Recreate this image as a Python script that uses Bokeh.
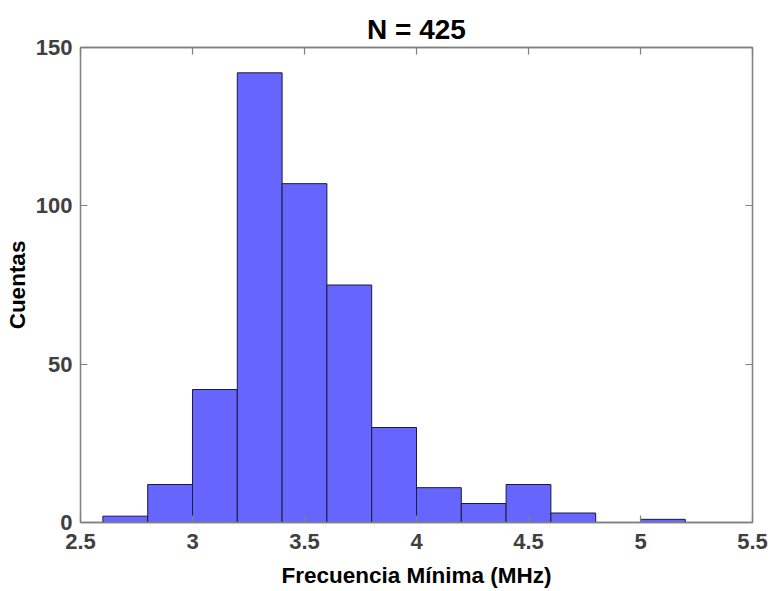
from bokeh.plotting import figure
from bokeh.models import Range1d, LinearAxis, FixedTicker, CustomJSTickFormatter
from bokeh.embed import file_html
from bokeh.resources import INLINE

# Data (histogram bins in MHz and counts)
bin_edges = [2.6, 2.8, 3.0, 3.2, 3.4, 3.6, 3.8, 4.0, 4.2, 4.4, 4.6, 4.8, 5.0, 5.2]
counts = [2, 12, 42, 142, 107, 75, 30, 11, 6, 12, 3, 0, 1]
x_ticks = [2.5, 3, 3.5, 4, 4.5, 5, 5.5]
y_ticks = [0, 50, 100, 150]
title_text = "N = 425"
x_label = "Frecuencia Mínima (MHz)"
y_label = "Cuentas"

FONT = "Liberation Sans"
AX_COL = "#808080"
TICK_COL = "#404040"

p = figure(width=771, height=591, output_backend="svg", toolbar_location=None,
           x_range=Range1d(2.5, 5.5), y_range=Range1d(0, 150),
           x_axis_location=None, y_axis_location=None,
           min_border_left=80, min_border_right=19,
           min_border_top=47, min_border_bottom=69,
           title=title_text)

p.title.text_font = FONT
p.title.text_font_size = "28px"
p.title.text_font_style = "bold"
p.title.text_color = "black"
p.title.align = "center"
p.title.standoff = 5

p.grid.visible = False
p.outline_line_color = AX_COL
p.outline_line_width = 1.3
p.background_fill_color = "white"
p.border_fill_color = "white"

p.quad(left=bin_edges[:-1], right=bin_edges[1:], bottom=0, top=counts,
       fill_color="#6666FF", line_color="#1a1a40", line_width=1)

fmt = CustomJSTickFormatter(code="return tick.toString();")

def style(ax, show_labels):
    ax.axis_line_color = AX_COL
    ax.axis_line_width = 1.3
    ax.major_tick_line_color = AX_COL
    ax.major_tick_line_width = 1.2
    ax.major_tick_in = 7
    ax.major_tick_out = 0
    ax.minor_tick_line_color = None
    if show_labels:
        ax.major_label_text_font = FONT
        ax.major_label_text_font_size = "22px"
        ax.major_label_text_font_style = "bold"
        ax.major_label_text_color = TICK_COL
        ax.axis_label_text_font = FONT
        ax.axis_label_text_font_size = "22.5px"
        ax.axis_label_text_font_style = "bold"
        ax.axis_label_text_color = "black"
    else:
        ax.major_label_text_font_size = "1px"
        ax.major_label_text_color = None
        ax.major_label_standoff = 0

xb = LinearAxis(ticker=FixedTicker(ticks=x_ticks), formatter=fmt, axis_label=x_label)
style(xb, True)
xb.major_label_standoff = 11
xb.axis_label_standoff = 11
p.add_layout(xb, "below")

yl = LinearAxis(ticker=FixedTicker(ticks=y_ticks), formatter=fmt, axis_label=y_label)
style(yl, True)
yl.major_label_standoff = 8
yl.axis_label_standoff = 3
p.add_layout(yl, "left")

xt = LinearAxis(ticker=FixedTicker(ticks=x_ticks))
style(xt, False)
p.add_layout(xt, "above")

yr = LinearAxis(ticker=FixedTicker(ticks=y_ticks))
style(yr, False)
p.add_layout(yr, "right")

open("out.html", "w").write(file_html(p, INLINE))
